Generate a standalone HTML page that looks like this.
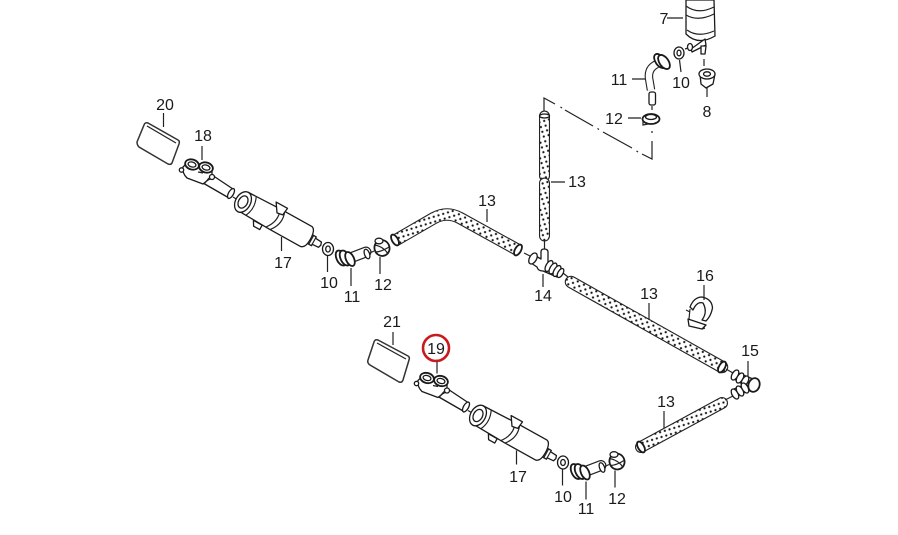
<!DOCTYPE html>
<html>
<head>
<meta charset="utf-8">
<style>
html,body{margin:0;padding:0;background:#fff}
svg{display:block;filter:blur(0.3px)}
text{font-family:"Liberation Sans",sans-serif;font-size:16px;fill:#1a1a1a;text-anchor:middle}
.l{stroke:#222;stroke-width:1.2;fill:none}
.p{stroke:#1a1a1a;stroke-width:1.3;fill:#fff;stroke-linejoin:round}
.t{stroke:#1a1a1a;stroke-width:1.8;fill:#fff}
</style>
</head>
<body>
<svg width="898" height="535" viewBox="0 0 898 535" xmlns="http://www.w3.org/2000/svg">
<defs>
<pattern id="dots" width="7" height="7" patternUnits="userSpaceOnUse" patternTransform="rotate(28)">
<rect width="7" height="7" fill="#fff"/>
<circle cx="1.750" cy="1.750" r="1.100" fill="#111"/>
<circle cx="5.250" cy="5.250" r="1.100" fill="#111"/>
</pattern>
<g id="asm">
<!-- connector 18/19 -->
<path class="p" d="M212 175 L233 189 L229 198 L203 183Z"/>
<ellipse class="p" cx="231" cy="193.500" rx="2.500" ry="5.500" transform="rotate(30 231 193.500)"/>
<path class="p" d="M183 167 L187 163 L200 164 L212 170 L212 178 L208 180 L203 184 L187 178 Q182 173 183 167Z"/>
<path class="l" d="M198 172 L203 173 M204 184 L209 178"/>
<circle class="p" cx="212" cy="177" r="2.500"/>
<circle class="p" cx="181.500" cy="170" r="2.200"/>
<ellipse class="t" cx="192" cy="164.500" rx="7" ry="5" transform="rotate(15 192 164.500)"/>
<ellipse class="p" cx="192" cy="164.500" rx="4" ry="2.500" transform="rotate(15 192 164.500)"/>
<ellipse class="t" cx="206" cy="167.500" rx="7" ry="5" transform="rotate(15 206 167.500)"/>
<ellipse class="p" cx="206" cy="167.500" rx="4" ry="2.500" transform="rotate(15 206 167.500)"/>
<path class="l" d="M233 197 L238 200"/>
<!-- pump 17 -->
<g transform="translate(243,202) rotate(29)">
<path class="p" d="M74 -5 L81 -5 L81 -3.500 L88 -3 L89 0 L88 3 L81 3.500 L81 5 L74 5Z"/>
<path class="l" d="M81 -4 L81 4 M78 -5 L78 5"/>
<path class="p" d="M0 -11 L36 -12 L72 -12 Q77 -11 77 0 Q77 10 72 11 L36 11 L0 10Z"/>
<ellipse class="p" cx="0" cy="0" rx="7.500" ry="11"/>
<ellipse class="p" cx="0" cy="0" rx="4.500" ry="6.500"/>
<path class="l" d="M9 -11 Q14 0 9 10 M41 -12 Q46 0 37 11 M36 -12 Q41 0 32 11"/>
<path class="p" d="M29 -16 L42 -16 L41 -8 L35 -7Z"/>
<path class="p" d="M18 11 L28 11 L28 16 L21 16Z"/>
</g>
<!-- washer 10 -->
<ellipse class="p" cx="328" cy="249" rx="5.500" ry="6.500" stroke-width="1.600"/>
<ellipse class="p" cx="328" cy="249" rx="2.300" ry="3"/>
<!-- elbow 11 -->
<path d="M345 260 L366 252" stroke="#222" stroke-width="11" stroke-linecap="round"/>
<path d="M345 260 L366 252" stroke="#fff" stroke-width="8.500" stroke-linecap="round"/>
<ellipse class="t" cx="341" cy="258" rx="4.500" ry="8" transform="rotate(-25 341 258)"/>
<ellipse class="t" cx="345" cy="258" rx="4.500" ry="8" transform="rotate(-25 345 258)"/>
<ellipse class="t" cx="350" cy="259" rx="4" ry="7.500" transform="rotate(-25 350 259)"/>
<ellipse class="p" cx="367" cy="254" rx="2.500" ry="5" transform="rotate(-20 367 254)"/>
<path class="l" d="M370 253 L374 251"/>
<!-- clamp 12 -->
<ellipse class="t" cx="382" cy="248" rx="7.500" ry="8" transform="rotate(-20 382 248)"/>
<ellipse class="p" cx="379" cy="241" rx="4" ry="2.800"/>
<path class="l" d="M375 245 Q384 247 388 254 M375 252 Q381 252 389 247"/>
<!-- leaders -->
<path class="l" d="M202 146 L202 160 M281.500 237 L281.500 251 M327.500 256 L327.500 272 M351 268 L351 286 M380 257 L380 274"/>
</g>
</defs>

<rect width="898" height="535" fill="#fff"/>

<!-- dash-dot frame -->
<path class="l" d="M544 113 L544 98 L555 104 M560.500 107 L562 108 M565 110 L593 126 M597.500 128.500 L599 129.500 M603 132 L632 148 M636.500 151 L638 152 M642 154 L652 159 L652 141 M652 133 L652 131"/>

<!-- pump 7 -->
<path class="p" d="M686 0 L686 34 Q698 46 715 36 L714 0Z"/>
<path class="l" d="M686 6 Q698 15 714 7 M686 15 Q698 22 714 14 M687 30 Q698 38 714 31"/>
<path class="p" d="M691 49 L705 39 L706 45 L692 52Z"/>
<ellipse class="p" cx="690" cy="47" rx="2.500" ry="3.500"/>
<path class="p" d="M701 46 L706 46 L705 54 L701 54Z"/>
<ellipse class="p" cx="679" cy="53" rx="5" ry="6" stroke-width="1.500"/>
<ellipse class="p" cx="679" cy="53" rx="2" ry="2.800"/>
<path class="l" d="M685 49 L688 48 M704 59 L704 66"/>
<!-- grommet 8 -->
<path class="p" d="M700 74 L701 84 L706 88 L713 84 L715 74Z"/>
<ellipse class="p" cx="707" cy="74" rx="8" ry="5"/>
<ellipse class="p" cx="707" cy="74" rx="3.500" ry="2.200"/>
<!-- elbow 11 upper -->
<path d="M651 90 L649 78 Q648 68 657 64" stroke="#222" stroke-width="8.500" fill="none"/>
<path d="M651 90 L649 78 Q648 68 657 64" stroke="#fff" stroke-width="6.300" fill="none"/>
<ellipse class="t" cx="660" cy="61" rx="4.500" ry="8" transform="rotate(-35 660 61)"/>
<ellipse class="t" cx="664" cy="62" rx="4.500" ry="8" transform="rotate(-35 664 62)"/>
<rect class="p" x="649" y="92" width="6.500" height="13" rx="2"/>
<path class="l" d="M652 106 L652 110"/>
<!-- clamp 12 upper -->
<ellipse class="t" cx="651" cy="119" rx="8.500" ry="5"/>
<ellipse class="p" cx="651" cy="117" rx="5.500" ry="2.500"/>
<path class="l" d="M643 120 L643 125 L648 124"/>

<!-- hoses -->
<g fill="none">
<path d="M544.500 116 L544.500 176" stroke="#222" stroke-width="11" stroke-linecap="round"/>
<path d="M544.500 116 L544.500 176" stroke="url(#dots)" stroke-width="8.800" stroke-linecap="round"/>
<path d="M544.500 183 L544.500 236" stroke="#222" stroke-width="11" stroke-linecap="round"/>
<path d="M544.500 183 L544.500 236" stroke="url(#dots)" stroke-width="8.800" stroke-linecap="round"/>
<path d="M396 240 L434 218 Q447 211 460 218 L518 250" stroke="#222" stroke-width="12.500"/>
<path d="M396 240 L434 218 Q447 211 460 218 L518 250" stroke="url(#dots)" stroke-width="10.300"/>
<path d="M571 282 L722 367" stroke="#222" stroke-width="12.500" stroke-linecap="round"/>
<path d="M571 282 L722 367" stroke="url(#dots)" stroke-width="10.300" stroke-linecap="round"/>
<path d="M641 447 L722 403" stroke="#222" stroke-width="12" stroke-linecap="round"/>
<path d="M641 447 L722 403" stroke="url(#dots)" stroke-width="9.800" stroke-linecap="round"/>
</g>
<ellipse class="t" cx="395" cy="240" rx="3" ry="6" transform="rotate(-30 395 240)"/>
<ellipse class="t" cx="518" cy="250" rx="3" ry="6" transform="rotate(30 518 250)"/>
<ellipse class="t" cx="722" cy="367" rx="3" ry="6" transform="rotate(30 722 367)"/>
<ellipse class="t" cx="641" cy="447" rx="3" ry="6" transform="rotate(-30 641 447)"/>
<ellipse class="p" cx="544.500" cy="116" rx="5" ry="2"/>

<!-- T piece 14 -->
<path class="l" d="M544.500 240 L544.500 249 M524 253 L530 256 M563 273 L568 277"/>
<path class="p" d="M534 255 L541 259 L541 252 Q541 249 544 249 Q548 249 548 252 L548 263 L561 270 L557 277 L543 271 Q538 271 537 267 L531 263Z"/>
<ellipse class="p" cx="533" cy="258.500" rx="3.500" ry="6" transform="rotate(30 533 258.500)"/>
<ellipse class="p" cx="549" cy="266" rx="3" ry="6" transform="rotate(30 549 266)"/>
<ellipse class="p" cx="553" cy="268.500" rx="3" ry="6" transform="rotate(30 553 268.500)"/>
<ellipse class="p" cx="557" cy="271" rx="3" ry="6" transform="rotate(30 557 271)"/>
<ellipse class="p" cx="560.500" cy="273" rx="2.500" ry="5" transform="rotate(30 560.500 273)"/>

<!-- elbow 15 -->
<path class="l" d="M726 369 L733 373 M725 400 L733 396"/>
<path class="p" d="M736 372 L753 379 L759 388 L748 391 L734 397 L734 389 L744 385 L734 379Z"/>
<ellipse class="p" cx="735" cy="375" rx="3" ry="5.500" transform="rotate(30 735 375)"/>
<ellipse class="p" cx="740" cy="378" rx="3" ry="5.500" transform="rotate(30 740 378)"/>
<ellipse class="p" cx="745" cy="381" rx="3" ry="5.500" transform="rotate(30 745 381)"/>
<ellipse class="p" cx="735" cy="394" rx="3" ry="5.500" transform="rotate(-30 735 394)"/>
<ellipse class="p" cx="740" cy="391" rx="3" ry="5.500" transform="rotate(-30 740 391)"/>
<ellipse class="p" cx="745" cy="388" rx="3" ry="5.500" transform="rotate(-30 745 388)"/>
<ellipse class="t" cx="754" cy="385" rx="5.500" ry="7" transform="rotate(20 754 385)"/>

<!-- clip 16 -->
<path class="p" d="M690 307 Q694 297 702 297 Q712 299 712.500 308 Q711 316 706 321 L702 320 Q708 312 703 303 Q697 301 693 310Z"/>
<path class="p" d="M688 319 L706 325 L702 329 L689 326Z"/>
<path class="l" d="M686 310 L690 312 M690 309 L689 319 M702 329 L705 328"/>

<!-- plates -->
<path d="M148 123 L178 140 Q180 141 179 144 L172 163 Q171 165 168 164 L139 147 Q137 145 137 142 L144 125 Q145 122 148 123Z" fill="#fff" stroke="#333" stroke-width="1.500"/>
<path class="l" d="M147 126 L176 143"/>
<path d="M378 340 L408 356 Q410 357 409 360 L403 380 Q402 383 399 382 L370 365 Q367 363 368 360 L374 342 Q375 339 378 340Z" fill="#fff" stroke="#333" stroke-width="1.500"/>
<path class="l" d="M377 343 L406 359"/>

<!-- repeated assemblies -->
<use href="#asm"/>
<use href="#asm" x="235" y="213.500"/>

<!-- leaders -->
<path class="l" d="M163.500 113 L163.500 127 M393 332 L393 345
M667 18 L683 18 M632 79 L645 79 M628 118 L641 118 M681 72 L679.500 60 M707 97 L707 88 M565 182 L551 182
M487 209 L487 222 M543 274 L543 287 M649 303 L649 320 M704 285 L704 300 M748 361 L748 377 M664 411 L664 428"/>

<!-- labels -->
<text x="165" y="110">20</text>
<text x="203" y="141">18</text>
<text x="283" y="268">17</text>
<text x="329" y="288">10</text>
<text x="352" y="302">11</text>
<text x="383" y="290">12</text>
<text x="664" y="24">7</text>
<text x="619" y="85">11</text>
<text x="681" y="88">10</text>
<text x="707" y="117">8</text>
<text x="614" y="124">12</text>
<text x="577" y="187">13</text>
<text x="487" y="206">13</text>
<text x="543" y="301">14</text>
<text x="649" y="299">13</text>
<text x="705" y="281">16</text>
<text x="750" y="356">15</text>
<text x="392" y="327">21</text>
<text x="436" y="354">19</text>
<text x="666" y="407">13</text>
<text x="518" y="482">17</text>
<text x="563" y="502">10</text>
<text x="586" y="514">11</text>
<text x="617" y="504">12</text>

<circle cx="436" cy="348" r="13" fill="none" stroke="#c8191e" stroke-width="2.600"/>
</svg>
</body>
</html>
